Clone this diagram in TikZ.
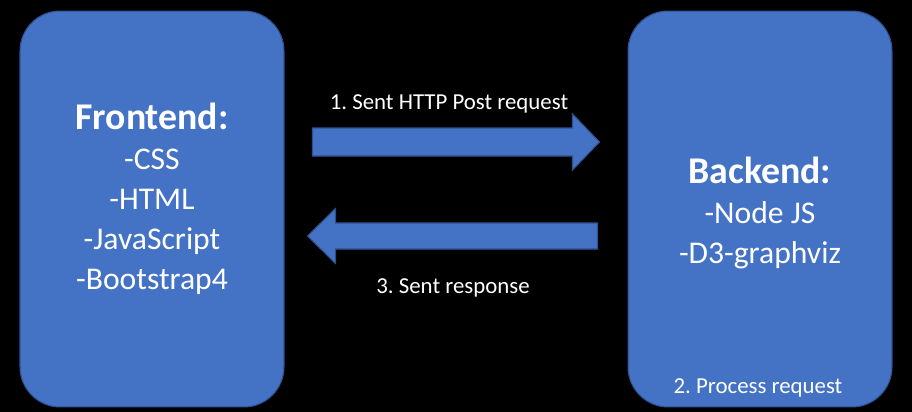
\documentclass[tikz,border=0pt]{standalone}
\usepackage{fontspec}
\setmainfont{Carlito}
\frenchspacing
\usetikzlibrary{positioning,calc}
\definecolor{boxblue}{RGB}{68,114,196}
\definecolor{edgeblue}{RGB}{47,82,143}

\begin{document}
\begin{tikzpicture}[x=0.02cm,y=-0.02cm,
    box/.style={draw=edgeblue,line width=0.6pt,fill=boxblue,rounded corners=0.8cm,minimum width=5.28cm,minimum height=7.92cm,inner sep=0pt},
    fatarrow/.style={draw=edgeblue,line width=0.6pt,fill=boxblue},
    lbl/.style={text=white,align=center,inner sep=0pt}]
    % Background
    \fill[black] (0,0) rectangle (912,412);

    % Frontend
    \node[box] (front) at (152,209) {};
    \node[lbl,font=\fontsize{18}{22.7}\selectfont] (fronttext) at (152,199) {{\fontsize{21.5}{22.7}\selectfont\bfseries Frontend:}\\-CSS\\-HTML\\-JavaScript\\-Bootstrap4};

    % Backend
    \node[box] (back) at (760,209) {};
    \node[lbl,font=\fontsize{18}{22.7}\selectfont] (backtext) at (760,213) {{\fontsize{21.5}{22.7}\selectfont\bfseries Backend:}\\-Node JS\\-D3-graphviz};
    \node[lbl,font=\fontsize{13}{15}\selectfont,anchor=base] (process) at (758,393) {2. Process request};

    % Request arrow
    \coordinate (reqtail) at ($(front.east)+(28,-67)$);
    \coordinate (reqtip) at ($(back.west)+(-28,-67)$);
    \draw[fatarrow] ($(reqtail)+(0,-14)$) -- ($(reqtip)+(-27,-14)$) -- ($(reqtip)+(-27,-28)$) -- (reqtip)
        -- ($(reqtip)+(-27,28)$) -- ($(reqtip)+(-27,14)$) -- ($(reqtail)+(0,14)$) -- cycle;
    \node[lbl,font=\fontsize{13}{15}\selectfont,anchor=base] (reqlabel) at (449,110) {1. Sent HTTP Post request};

    % Response arrow
    \coordinate (restail) at ($(back.west)+(-30,27)$);
    \coordinate (restip) at ($(front.east)+(23,27)$);
    \draw[fatarrow] ($(restail)+(0,-13)$) -- ($(restip)+(28,-13)$) -- ($(restip)+(28,-27.5)$) -- (restip)
        -- ($(restip)+(28,27.5)$) -- ($(restip)+(28,13)$) -- ($(restail)+(0,13)$) -- cycle;
    \node[lbl,font=\fontsize{13}{15}\selectfont,anchor=base] (reslabel) at (453,293) {3. Sent response};
\end{tikzpicture}
\end{document}
